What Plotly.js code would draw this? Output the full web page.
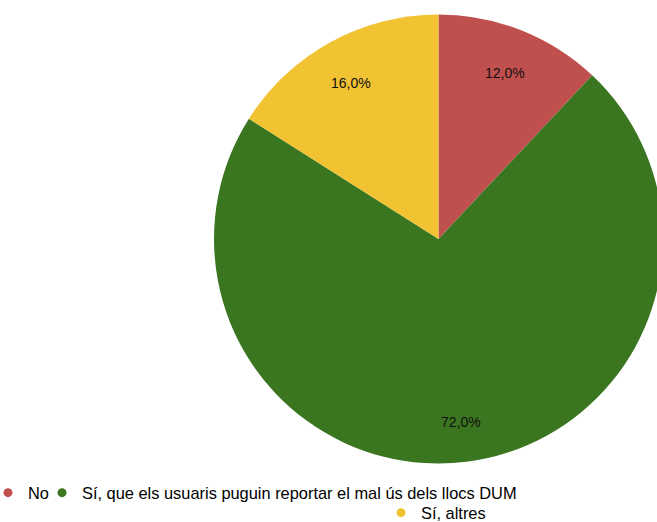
<!DOCTYPE html>
<html>
<head>
<meta charset="utf-8">
<script src="https://cdn.plot.ly/plotly-3.0.1.min.js"></script>
<style>
html, body { margin: 0; padding: 0; overflow: hidden; background: #fff; }
#chart { width: 730px; height: 580px; margin-left: -30px; }
</style>
</head>
<body>
<div id="chart"></div>
<script>
const labels = ['No', 'Sí, que els usuaris puguin reportar el mal ús dels llocs DUM', 'Sí, altres'];
const values = [12, 72, 16];
const colors = ['#C0504D', '#3A7520', '#F1C232'];

const OFF = 30;               // canvas is shifted left by this many pixels
const W = 730, H = 580;       // canvas larger than the 657x522 window; extra is cropped
const FONT = '"Liberation Sans Narrow", "Liberation Sans", Arial, sans-serif';

// pie geometry in screen pixels
const CX = 438.5, CY = 239, R = 224.5;
const dom = {
  x: [(CX + OFF - R) / W, (CX + OFF + R) / W],
  y: [(H - CY - R) / H, (H - CY + R) / H]
};

const pie = {
  type: 'pie',
  labels: labels,
  values: values,
  sort: false,
  direction: 'clockwise',
  rotation: 0,
  marker: { colors: colors, line: { width: 0 } },
  textinfo: 'none',
  hoverinfo: 'label+percent',
  showlegend: false,
  domain: dom
};

// percentage labels on each slice's mid-angle, at ~81% of the radius
const total = values.reduce((a, b) => a + b, 0);
const LR = 0.81 * R;
let cum = 0;
const annotations = values.map((v, i) => {
  const mid = (cum + v / 2) / total * 2 * Math.PI;
  cum += v;
  const px = CX + OFF + LR * Math.sin(mid);
  const py = CY + 3 - LR * Math.cos(mid);
  return {
    xref: 'paper', yref: 'paper',
    x: px / W, y: (H - py) / H,
    xanchor: 'center', yanchor: 'middle',
    showarrow: false,
    text: (v / total * 100).toFixed(1).replace('.', ',') + '%',
    font: { family: FONT, size: 14, color: '#111' }
  };
});

const legendNames = ['legend', 'legend2', 'legend3'];
const dummies = labels.map((l, i) => ({
  type: 'scatter',
  mode: 'markers',
  x: [null], y: [null],
  name: l,
  marker: { color: colors[i], size: 9, symbol: 'circle' },
  legend: legendNames[i],
  hoverinfo: 'skip'
}));

const legBase = {
  orientation: 'h',
  xanchor: 'left',
  yanchor: 'middle',
  font: { family: FONT, size: 16.4, color: '#000' },
  bgcolor: 'rgba(0,0,0,0)',
  itemwidth: 30,
  tracegroupgap: 0
};

const layout = {
  width: W, height: H,
  margin: { l: 0, r: 0, t: 0, b: 0 },
  paper_bgcolor: '#fff',
  plot_bgcolor: '#fff',
  separators: ',.',
  xaxis: { visible: false },
  yaxis: { visible: false },
  annotations: annotations,
  legend: Object.assign({}, legBase, { x: (-12 + OFF) / W, y: (H - 493) / H }),
  legend2: Object.assign({}, legBase, { x: (42 + OFF) / W, y: (H - 493) / H }),
  legend3: Object.assign({}, legBase, { x: (381 + OFF) / W, y: (H - 513) / H })
};

Plotly.newPlot('chart', [pie].concat(dummies), layout, { displayModeBar: false, staticPlot: true });
</script>
</body>
</html>
